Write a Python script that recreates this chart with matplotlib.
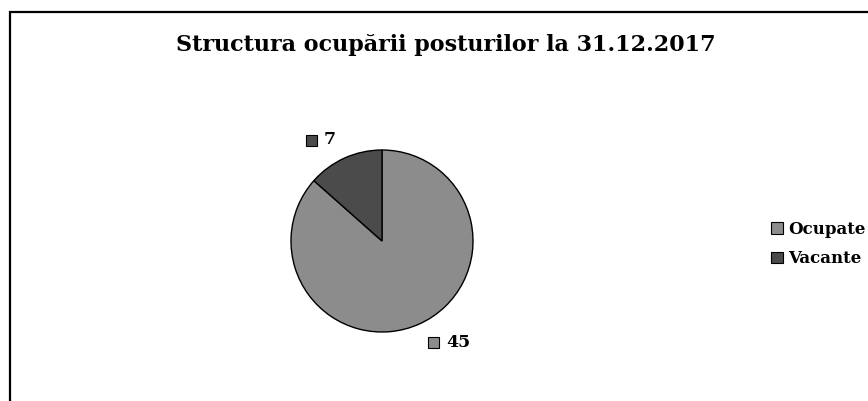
import matplotlib.pyplot as plt
from matplotlib.patches import Rectangle
from matplotlib.offsetbox import AnnotationBbox, HPacker, DrawingArea, TextArea
import numpy as np

categories = ['Ocupate', 'Vacante']
values = [45, 7]
colors = ['#8c8c8c', '#4b4b4b']
title = 'Structura ocupării posturilor la 31.12.2017'

FONT = 'DejaVu Serif'

W, H = 868, 401
fig = plt.figure(figsize=(W / 100, H / 100), dpi=100)

# chart border (cut off at right and bottom like the reference)
fig.patches.append(Rectangle((10 / W, -0.05), 1.0, 1 - 12 / H + 0.05,
                             transform=fig.transFigure, fill=False,
                             ec='black', lw=1.6, clip_on=False))

fig.text(446 / W, 1 - 45 / H, title, ha='center', va='center',
         fontsize=16, fontweight='bold', family=FONT)

cx, cy, r = 382, 241, 91
ax = fig.add_axes([(cx - r) / W, (H - cy - r) / H, 2 * r / W, 2 * r / H])
wedges, _ = ax.pie(values, colors=colors, startangle=90, counterclock=False,
                   wedgeprops=dict(edgecolor='black', linewidth=1.0))
ax.set_xlim(-1, 1)
ax.set_ylim(-1, 1)
ax.axis('off')

# data labels: small coloured square + value
for w, v, c in zip(wedges, values, colors):
    ang = np.deg2rad((w.theta1 + w.theta2) / 2)
    x, y = 1.24 * np.cos(ang), 1.22 * np.sin(ang)
    da = DrawingArea(9, 9, 0, 0)
    da.add_artist(Rectangle((0, 0), 8, 8, fc=c, ec='black', lw=0.8))
    ta = TextArea(str(v), textprops=dict(fontsize=12.5, fontweight='bold',
                                         family=FONT))
    box = HPacker(children=[da, ta], align='center', pad=0, sep=4)
    align = (0, 0.5) if x > 0 else (1, 0.5)
    ab = AnnotationBbox(box, (x, y), xycoords='data', frameon=False,
                        box_alignment=align, annotation_clip=False)
    ax.add_artist(ab)

handles = [Rectangle((0, 0), 1, 1, fc=c, ec='black', lw=0.8) for c in colors]
fig.legend(handles, categories, loc='center left',
           bbox_to_anchor=(763 / W, 1 - 244 / H), frameon=False,
           handlelength=0.7, handleheight=0.7, handletextpad=0.3,
           labelspacing=0.75, borderpad=0,
           prop=dict(family=FONT, weight='bold', size=12))

fig.savefig('out.png', dpi=100)
